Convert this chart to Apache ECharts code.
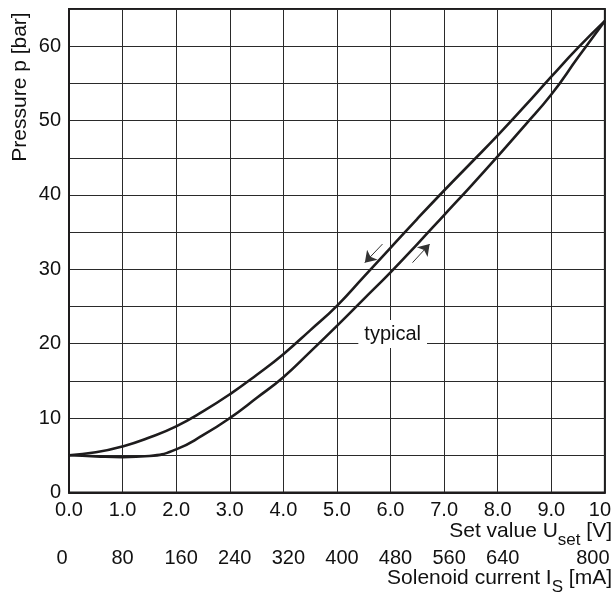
<!DOCTYPE html>
<html>
<head>
<meta charset="utf-8">
<script src="https://cdn.jsdelivr.net/npm/echarts@6/dist/echarts.min.js"></script>
<style>
html,body{margin:0;padding:0;background:#fff;}
#chart{width:614px;height:594px;}
</style>
</head>
<body>
<div id="chart"></div>
<script>
// Set value U_set [V]
const setValues = [0, 0.5, 1, 1.5, 2, 2.5, 3, 3.5, 4, 4.5, 5, 5.5, 6, 6.5, 7, 7.5, 8, 8.5, 9, 9.5, 10];
// Pressure [bar], decreasing branch (upper curve)
const pressureDown = [5.0, 5.4, 6.2, 7.4, 8.9, 10.9, 13.2, 15.8, 18.6, 21.8, 25.1, 29.0, 32.9, 36.8, 40.6, 44.3, 48.0, 51.9, 55.9, 59.8, 63.4];
// Pressure [bar], increasing branch (lower curve)
const pressureUp = [5.0, 4.85, 4.75, 4.9, 5.8, 7.7, 10.0, 12.7, 15.5, 18.9, 22.4, 26.0, 29.6, 33.4, 37.3, 41.2, 45.2, 49.3, 53.5, 58.5, 63.4];
// Direction arrows [setValue, pressure]
const arrowDown = [[5.85, 33.4], [5.52, 30.9]];
const arrowUp = [[6.41, 30.9], [6.73, 33.4]];
// Annotation
const typicalPoint = [6.04, 21.3];
const typicalText = 'typical';
// Current axis tick labels (mA)
const currentTicks = [0, 80, 160, 240, 320, 400, 480, 560, 640, 800];

const FONT = "'Liberation Sans', Arial, Helvetica, sans-serif";
const INK = '#1e1c1d';

const chart = echarts.init(document.getElementById('chart'), null, {renderer: 'canvas'});

const toPairs = (xs, ys) => xs.map((x, i) => [x, ys[i]]);

chart.setOption({
  animation: false,
  backgroundColor: '#fff',
  textStyle: {fontFamily: FONT},
  grid: {left: 69, right: 9, top: 9, bottom: 101.5, show: true, borderColor: INK, borderWidth: 2, backgroundColor: 'transparent'},
  xAxis: [
    {
      type: 'value', min: 0, max: 10, interval: 1, position: 'bottom',
      axisLine: {show: true, onZero: false, lineStyle: {color: INK, width: 2}},
      axisTick: {show: false},
      splitLine: {show: true, lineStyle: {color: '#2a2a2a', width: 1}},
      axisLabel: {
        show: true, margin: 8, fontSize: 20, color: '#111', fontFamily: FONT,
        formatter: v => v === 10 ? '{m|10}' : v.toFixed(1),
        rich: {m: {fontSize: 20, color: '#111', fontFamily: FONT, padding: [0, 10, 0, 0]}}
      }
    },
    {
      type: 'value', min: 0, max: 800, interval: 80, position: 'bottom', offset: 46,
      axisLine: {show: false}, axisTick: {show: false}, splitLine: {show: false},
      axisLabel: {
        show: true, margin: 10, fontSize: 20, color: '#111', fontFamily: FONT,
        formatter: v => {
          if (currentTicks.indexOf(v) < 0) return '';
          if (v === 0) return '{z|0}';
          if (v === 800) return '{e|800}';
          if (v >= 100) return '{t|' + v + '}';
          return String(v);
        },
        rich: {
          z: {fontSize: 20, color: '#111', fontFamily: FONT, padding: [0, 14, 0, 0]},
          e: {fontSize: 20, color: '#111', fontFamily: FONT, padding: [0, 24, 0, 0]},
          t: {fontSize: 20, color: '#111', fontFamily: FONT, padding: [0, 0, 0, 10]}
        }
      }
    }
  ],
  yAxis: {
    type: 'value', min: 0, max: 65, interval: 5,
    axisLine: {show: true, onZero: false, lineStyle: {color: INK, width: 2}},
    axisTick: {show: false},
    splitLine: {show: true, lineStyle: {color: '#2a2a2a', width: 1}},
    axisLabel: {
      margin: 8, fontSize: 20, color: '#111', fontFamily: FONT,
      formatter: v => (v % 10 === 0 ? String(v) : '')
    }
  },
  series: [
    {
      type: 'line', name: 'down', data: toPairs(setValues, pressureDown),
      smooth: 0.5, showSymbol: false, symbol: 'none',
      lineStyle: {color: INK, width: 2.6}, z: 3
    },
    {
      type: 'line', name: 'up', data: toPairs(setValues, pressureUp),
      smooth: 0.5, showSymbol: false, symbol: 'none',
      lineStyle: {color: INK, width: 2.6}, z: 3
    },
    {
      type: 'lines', coordinateSystem: 'cartesian2d', xAxisIndex: 0, yAxisIndex: 0,
      symbol: ['none', 'arrow'], symbolSize: [0, 11],
      lineStyle: {color: '#333', width: 1, opacity: 1, curveness: 0},
      itemStyle: {color: INK},
      data: [{coords: arrowDown}, {coords: arrowUp}], z: 4
    },
    {
      type: 'scatter', data: [typicalPoint], symbol: 'rect', symbolSize: 1,
      itemStyle: {color: 'rgba(255,255,255,0)', opacity: 1},
      label: {
        show: true, position: 'inside', formatter: typicalText,
        fontSize: 20, color: '#111', fontFamily: FONT, opacity: 1,
        backgroundColor: '#ffffff', padding: [4, 6, 4, 6]
      },
      emphasis: {disabled: true},
      z: 5, silent: true
    }
  ],
  graphic: [
    {
      type: 'text', x: 20, y: 87, rotation: Math.PI / 2,
      style: {text: 'Pressure p [bar]', font: '21px ' + FONT, fill: '#111', textAlign: 'center', textVerticalAlign: 'middle'}
    },
    {
      type: 'text', right: 2, top: 521,
      style: {
        text: '{a|Set value U}{b|set}{a| [V]}',
        textAlign: 'right', fill: '#111',
        rich: {
          a: {fontSize: 21, fontFamily: FONT, fill: '#111', lineHeight: 28, verticalAlign: 'top'},
          b: {fontSize: 17, fontFamily: FONT, fill: '#111', lineHeight: 17, verticalAlign: 'bottom'}
        }
      }
    },
    {
      type: 'text', right: 2, top: 568,
      style: {
        text: '{a|Solenoid current I}{b|S}{a| [mA]}',
        textAlign: 'right', fill: '#111',
        rich: {
          a: {fontSize: 21, fontFamily: FONT, fill: '#111', lineHeight: 28, verticalAlign: 'top'},
          b: {fontSize: 17, fontFamily: FONT, fill: '#111', lineHeight: 17, verticalAlign: 'bottom'}
        }
      }
    }
  ]
});
</script>
</body>
</html>
